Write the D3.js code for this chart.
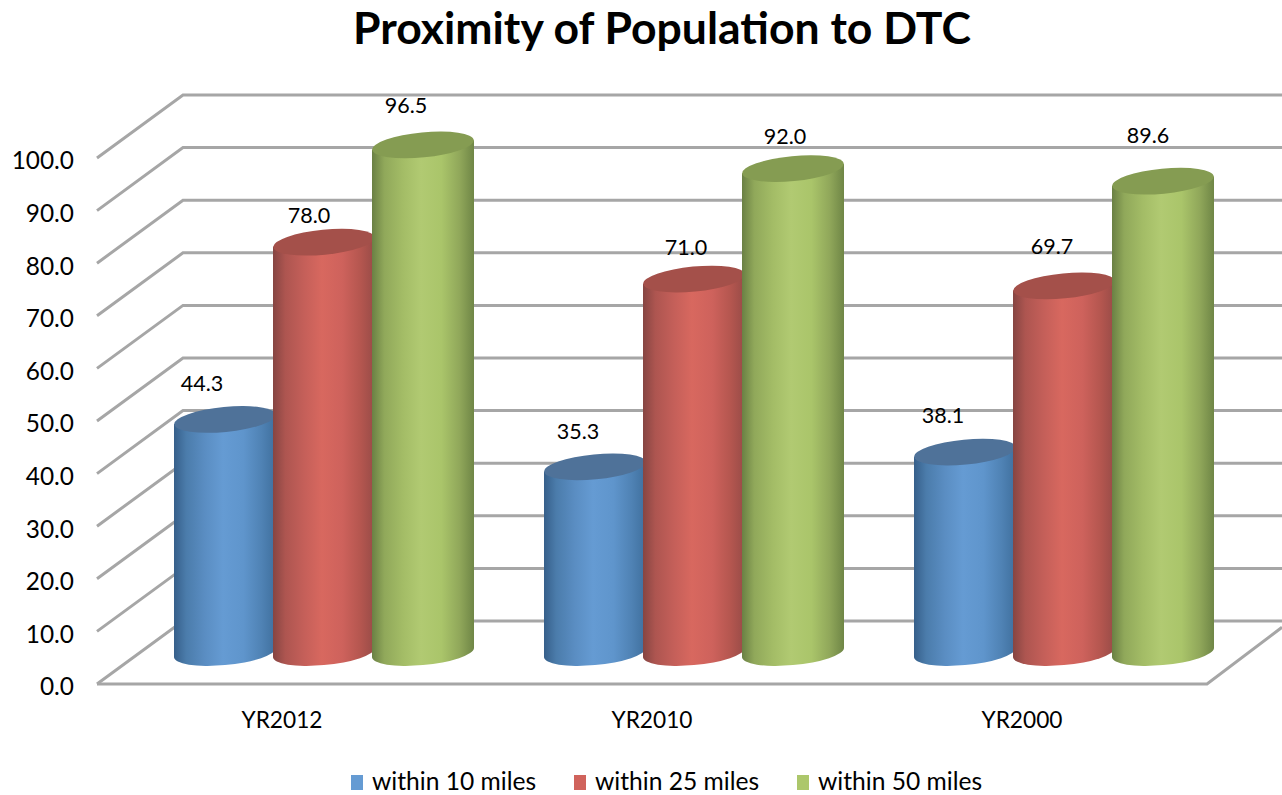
<!DOCTYPE html>
<html>
<head>
<meta charset="utf-8">
<script src="https://cdn.jsdelivr.net/npm/d3@7"></script>
<style>
  html, body { margin: 0; padding: 0; background: #fff; }
  svg { display: block; }
  text { font-family: Lato, "Open Sans", sans-serif; fill: #000; }
</style>
</head>
<body>
<svg id="chart" width="1282" height="795"></svg>
<script>
// Chart content
const chartTitle = "Proximity of Population to DTC";
const categories = ["YR2012", "YR2010", "YR2000"];
const seriesNames = ["within 10 miles", "within 25 miles", "within 50 miles"];
const within10 = [44.3, 35.3, 38.1];
const within25 = [78.0, 71.0, 69.7];
const within50 = [96.5, 92.0, 89.6];
const axisTicks = [0, 10, 20, 30, 40, 50, 60, 70, 80, 90, 100];

const seriesValues = [within10, within25, within50];

// Colour ramps across each cylinder, left edge to right edge
const ramps = [
  { flat: "#659bd3", top: "#4f7299", stops: ["#365f8a", "#4b7cab", "#5a8dc2", "#659bd3", "#5f95cc", "#4f82b4", "#3f6f9d"] },
  { flat: "#d0635c", top: "#a4504a", stops: ["#864542", "#ad5550", "#c45f59", "#d8685f", "#ce625c", "#b4564f", "#974b47"] },
  { flat: "#acc76b", top: "#859c52", stops: ["#6a8044", "#90a85a", "#a3bc66", "#b1ca72", "#aac56a", "#90a75a", "#6f8646"] }
];

// Layout of the 3D box: front plane, and the shift from front to back wall
const svg = d3.select("#chart");
const front = { left: 97, right: 1207, bottom: 684, top: 158 };
const depth = { dx: 86, dy: -63 };
const wallRight = 1282;

const xFront = d3.scaleBand().domain(categories).range([front.left, front.right]);
const ySpan = d3.scaleLinear().domain([0, 100]).range([front.bottom, front.top]);

// Cylinders stand halfway into the box
const yBar = v => ySpan(v) + depth.dy / 2;
const seriesStep = 99;
const xSeries = d3.scaleBand()
  .domain(d3.range(seriesNames.length))
  .range([-seriesStep * 1.5, seriesStep * 1.5]);
const barCenter = (c, s) =>
  xFront(categories[c]) + xFront.bandwidth() / 2 + depth.dx / 2 - 1 + xSeries(s) + xSeries.bandwidth() / 2;

// Hand-placed data labels, as offsets from the centre of each cylinder top
const labelNudge = [
  [[-23, -36], [-15, -27], [-17, -40]],
  [[-17, -36], [-8, -32], [-8, -33]],
  [[-22, -37], [-12, -40], [-15, -46]]
];

// Gradients
const defs = svg.append("defs");
ramps.forEach((r, i) => {
  const g = defs.append("linearGradient")
    .attr("id", "cyl" + i).attr("x1", 0).attr("x2", 1).attr("y1", 0).attr("y2", 0);
  const offsets = [0, 0.12, 0.3, 0.48, 0.68, 0.86, 1];
  r.stops.forEach((c, k) => g.append("stop").attr("offset", offsets[k]).attr("stop-color", c));
});

// Walls and floor
const grid = svg.append("g").attr("fill", "none").attr("stroke", "#a6a6a6").attr("stroke-width", 3);
grid.selectAll("path.wall").data(axisTicks).join("path")
  .attr("class", "wall")
  .attr("d", t => d3.line()([
    [front.left, ySpan(t)],
    [front.left + depth.dx, ySpan(t) + depth.dy],
    [wallRight, ySpan(t) + depth.dy]
  ]));
grid.append("path")
  .attr("d", d3.line()([
    [front.left, ySpan(0)],
    [front.right, ySpan(0)],
    [wallRight, ySpan(0) + depth.dy * 0.9]
  ]));

// Cylinders
const rx = 51, ry = 12.5, tilt = -5.5;
const edgeDy = 4.6;
const marks = [];
categories.forEach((cat, c) => seriesNames.forEach((name, s) => {
  marks.push({ c, s, value: seriesValues[s][c] });
}));

const bars = svg.append("g").selectAll("g").data(marks).join("g");
bars.append("path")
  .attr("fill", d => `url(#cyl${d.s})`)
  .attr("d", d => {
    const cx = barCenter(d.c, d.s), yT = yBar(d.value), yB = yBar(0);
    return `M${cx - rx},${yT + edgeDy} L${cx - rx},${yB + edgeDy} ` +
      `A${rx},${ry} ${tilt} 0 0 ${cx + rx},${yB - edgeDy} ` +
      `L${cx + rx},${yT - edgeDy} Z`;
  });
bars.append("ellipse")
  .attr("rx", rx).attr("ry", ry)
  .attr("fill", d => ramps[d.s].top)
  .attr("transform", d => `translate(${barCenter(d.c, d.s)},${yBar(d.value)}) rotate(${tilt})`);

// Data labels
svg.append("g").selectAll("text").data(marks).join("text")
  .attr("x", d => barCenter(d.c, d.s) + labelNudge[d.c][d.s][0])
  .attr("y", d => yBar(d.value) + labelNudge[d.c][d.s][1])
  .attr("text-anchor", "middle")
  .attr("dominant-baseline", "central")
  .attr("font-size", 21.5)
  .text(d => d.value.toFixed(1));

// Value axis
const yAxis = svg.append("g")
  .attr("transform", `translate(${front.left - 23},3)`)
  .call(d3.axisLeft(ySpan).tickValues(axisTicks).tickFormat(d3.format(".1f")).tickSize(0).tickPadding(0));
yAxis.select(".domain").remove();
yAxis.selectAll("text")
  .attr("font-size", 24.4)
  .style("font-family", "Lato, 'Open Sans', sans-serif");

// Category axis
const xAxis = svg.append("g")
  .attr("transform", `translate(0,${front.bottom + 28})`)
  .call(d3.axisBottom(xFront).tickSize(0).tickPadding(0));
xAxis.select(".domain").remove();
xAxis.selectAll("text")
  .attr("font-size", 22.7)
  .style("font-family", "Lato, 'Open Sans', sans-serif");

// Title
svg.append("text")
  .attr("x", 662).attr("y", 44)
  .attr("text-anchor", "middle")
  .attr("font-size", 44.5)
  .attr("font-weight", 700)
  .text(chartTitle);

// Legend
const legendX = [351, 574, 797];
const legend = svg.append("g").selectAll("g").data(seriesNames).join("g")
  .attr("transform", (d, i) => `translate(${legendX[i]},775)`);
legend.append("rect")
  .attr("width", 12).attr("height", 15)
  .attr("fill", (d, i) => ramps[i].flat);
legend.append("text")
  .attr("x", 21).attr("y", 15)
  .attr("font-size", 24.6)
  .text(d => d);
</script>
</body>
</html>
